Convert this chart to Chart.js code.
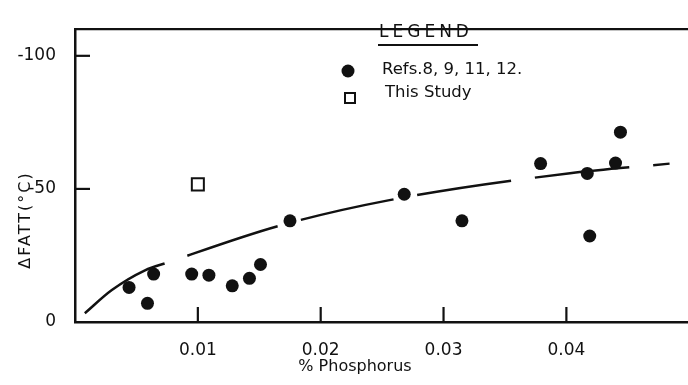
<!DOCTYPE html>
<html>
<head>
<meta charset="utf-8">
<script src="https://cdn.jsdelivr.net/npm/chart.js@4.4.1/dist/chart.umd.min.js"></script>
<style>
  html, body { margin: 0; padding: 0; background: #fff; }
  #wrap { width: 688px; height: 385px; }
</style>
</head>
<body>
<div id="wrap"><canvas id="c" width="688" height="385"></canvas></div>
<script>
// ---- data ----
const refsLabel = "Refs.8, 9, 11, 12.";
const refsX = [0.0044, 0.0059, 0.0064, 0.0095, 0.0109, 0.0128, 0.0142, 0.0151, 0.0175, 0.0268, 0.0315, 0.0379, 0.0417, 0.0419, 0.0440, 0.0444];
const refsY = [-13, -7, -18, -18, -17.6, -13.6, -16.4, -21.6, -38, -48, -38, -59.5, -55.8, -32.3, -59.7, -71.3];

const studyLabel = "This Study";
const studyX = [0.0100];
const studyY = [-51.7];

// fitted trend curve
const curveX = [0.0008, 0.0030, 0.0057, 0.0075, 0.0165, 0.0255, 0.0403, 0.0484];
const curveY = [-3.3, -12.0, -19.4, -22.3, -36.0, -45.7, -55.9, -59.5];

const xTickValues = [0.01, 0.02, 0.03, 0.04];
const yTickValues = [-100, -50, 0];

const xTitle = "% Phosphorus";
const yTitle = "\u0394FATT(\u00B0C)";
const legendTitle = "LEGEND";

// ---- chart ----
const INK = '#111';
const zip = (xs, ys) => xs.map((x, i) => ({ x: x, y: ys[i] }));

const decor = {
  id: 'decor',
  afterDraw(chart) {
    const { ctx, chartArea: a, scales: { x, y } } = chart;
    ctx.save();
    ctx.strokeStyle = INK;
    ctx.fillStyle = INK;
    ctx.lineCap = 'butt';
    // top frame line
    ctx.lineWidth = 2.2;
    ctx.beginPath(); ctx.moveTo(a.left - 1, a.top); ctx.lineTo(a.right, a.top); ctx.stroke();
    // inner tick marks
    ctx.lineWidth = 2.2;
    yTickValues.forEach(v => {
      if (v === 0) return;
      const py = y.getPixelForValue(v);
      ctx.beginPath(); ctx.moveTo(a.left, py); ctx.lineTo(a.left + 15, py); ctx.stroke();
    });
    xTickValues.forEach(v => {
      const px = x.getPixelForValue(v);
      ctx.beginPath(); ctx.moveTo(px, a.bottom); ctx.lineTo(px, a.bottom - 15); ctx.stroke();
    });
    // axis titles
    ctx.font = '16px "DejaVu Sans"';
    ctx.textAlign = 'center';
    ctx.textBaseline = 'middle';
    ctx.fillText(xTitle, 355, 367);
    ctx.save();
    ctx.translate(26, 220);
    ctx.rotate(-Math.PI / 2);
    ctx.letterSpacing = '2px';
    ctx.fillText(yTitle, 0, 0);
    ctx.restore();
    // legend
    ctx.textAlign = 'left';
    ctx.save();
    ctx.letterSpacing = '4px';
    ctx.font = '17px "DejaVu Sans"';
    ctx.fillText(legendTitle, 379, 33);
    ctx.restore();
    ctx.lineWidth = 2;
    ctx.beginPath(); ctx.moveTo(378, 45); ctx.lineTo(478, 45); ctx.stroke();
    ctx.font = '16.5px "DejaVu Sans"';
    // filled dot
    ctx.beginPath(); ctx.arc(348, 71, 6.5, 0, Math.PI * 2); ctx.fill();
    ctx.fillText(refsLabel, 382, 70);
    // open square
    ctx.lineWidth = 2;
    ctx.strokeRect(345, 93, 10, 10);
    ctx.fillText(studyLabel, 385, 93);
    ctx.restore();
  }
};

new Chart(document.getElementById('c'), {
  type: 'scatter',
  data: {
    datasets: [
      {
        label: refsLabel,
        data: zip(refsX, refsY),
        pointStyle: 'circle',
        pointRadius: 6.5,
        pointBackgroundColor: INK,
        pointBorderColor: INK,
        pointBorderWidth: 0,
        order: 1
      },
      {
        label: studyLabel,
        data: zip(studyX, studyY),
        pointStyle: 'rect',
        pointRadius: 8.5,
        pointBackgroundColor: '#fff',
        pointBorderColor: INK,
        pointBorderWidth: 2,
        order: 1
      },
      {
        type: 'line',
        label: 'fit',
        data: zip(curveX, curveY),
        showLine: true,
        borderColor: INK,
        borderWidth: 2.5,
        borderDash: [95, 24],
        pointRadius: 0,
        fill: false,
        cubicInterpolationMode: 'monotone',
        order: 3
      }
    ]
  },
  options: {
    responsive: false,
    animation: false,
    devicePixelRatio: 1,
    layout: { autoPadding: false, padding: { top: 20, right: 0, left: 0, bottom: 0 } },
    plugins: {
      legend: { display: false },
      tooltip: { enabled: false },
      title: { display: false }
    },
    scales: {
      x: {
        type: 'linear',
        min: 0,
        max: 0.0499,
        afterFit: s => { s.height = 63; s.paddingRight = 0; },
        afterBuildTicks: s => { s.ticks = xTickValues.map(v => ({ value: v })); },
        grid: { display: false, drawTicks: false },
        border: { display: true, color: INK, width: 2.5 },
        ticks: {
          padding: 18,
          color: INK,
          font: { family: 'DejaVu Sans', size: 17 },
          callback: v => v.toFixed(2)
        }
      },
      y: {
        type: 'linear',
        min: -110,
        max: 0,
        reverse: true,
        afterFit: s => { s.width = 75; },
        afterBuildTicks: s => { s.ticks = yTickValues.map(v => ({ value: v })); },
        grid: { display: false, drawTicks: false },
        border: { display: true, color: INK, width: 2.5 },
        ticks: {
          padding: 19,
          color: INK,
          font: { family: 'DejaVu Sans', size: 17 },
          callback: v => String(v)
        }
      }
    }
  },
  plugins: [decor]
});
</script>
</body>
</html>
